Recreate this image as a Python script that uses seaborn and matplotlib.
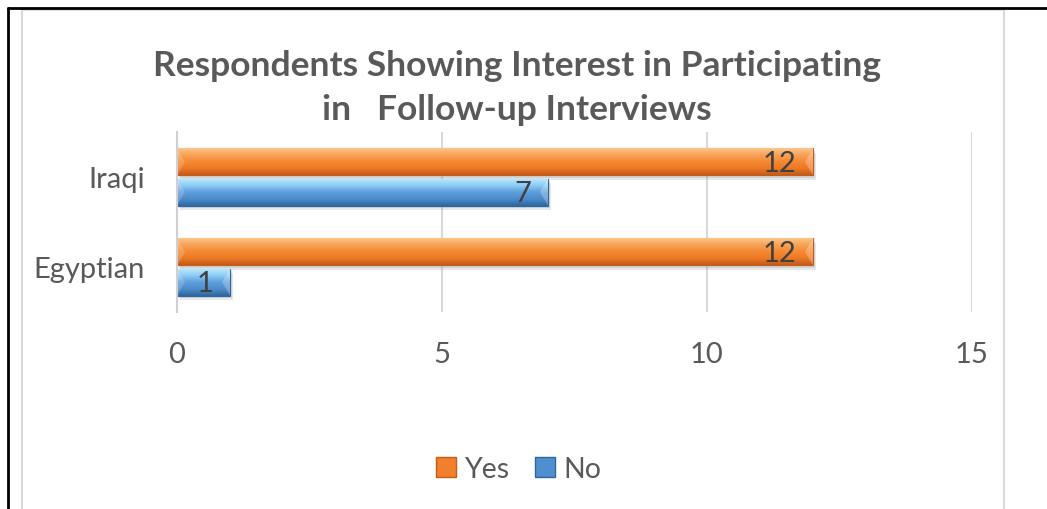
import numpy as np
import pandas as pd
import matplotlib
matplotlib.use("Agg")
import matplotlib.pyplot as plt
import matplotlib.patheffects as pe
from matplotlib.lines import Line2D
from matplotlib.patches import Patch, Polygon
from matplotlib.colors import to_rgb
import seaborn as sns

# Data
groups = ["Iraqi", "Egyptian"]
answers = ["Yes", "No"]
yes_counts = [12, 12]
no_counts = [7, 1]
x_ticks = [0, 5, 10, 15]

df = pd.DataFrame({
    "group": groups * 2,
    "answer": ["Yes"] * len(groups) + ["No"] * len(groups),
    "count": yes_counts + no_counts,
})

sns.set_theme(style="white")
plt.rcParams["font.family"] = ["Lato", "DejaVu Sans"]

colors = {"Yes": "#F27F2C", "No": "#4F8FD0"}
grad = {
    "Yes": ["#FCCB94", "#F8A65C", "#F58A35", "#EE7A25", "#C45C1A"],
    "No": ["#B8EEFF", "#90CDF6", "#5C9FDB", "#4D8CCB", "#2E67A0"],
}

fig = plt.figure(figsize=(10.47, 5.10), dpi=100)
ax = fig.add_axes([177 / 1047, 1 - 313 / 510, (972 - 177) / 1047, (313 - 133) / 510])

sns.barplot(data=df, y="group", x="count", hue="answer", order=groups,
            hue_order=answers, palette=colors, orient="h", width=0.667,
            gap=0.1, legend=False, ax=ax, saturation=1)

ax.set_xlim(0, 15)
ax.set_ylim(1.5, -0.5)
ax.set_xticks(x_ticks)
ax.set_xlabel("")
ax.set_ylabel("")
for s in ["top", "right", "bottom"]:
    ax.spines[s].set_visible(False)
ax.spines["left"].set_color("#D0D0D0")
ax.spines["left"].set_linewidth(1.5)
ax.xaxis.grid(True, color="#D9D9D9", linewidth=1.5)
ax.set_axisbelow(True)
ax.tick_params(axis="both", length=0, labelsize=21, labelcolor="#595959")
ax.tick_params(axis="x", pad=21)
ax.tick_params(axis="y", pad=23)


def shade(cols, n=64):
    pts = np.linspace(0, 1, len(cols))
    rgb = np.array([to_rgb(c) for c in cols])
    t = np.linspace(0, 1, n)
    out = np.stack([np.interp(t, pts, rgb[:, k]) for k in range(3)], axis=1)
    return out[:, None, :]


bevel = 0.15
for container, ans in zip(ax.containers, answers):
    for patch in container:
        x0, y0 = patch.get_x(), patch.get_y()
        w, h = patch.get_width(), patch.get_height()
        patch.set_edgecolor(grad[ans][-1])
        patch.set_linewidth(0.8)
        patch.set_path_effects([
            pe.SimplePatchShadow(offset=(2.5, -3.5), shadow_rgbFace="#999999", alpha=0.22),
            pe.SimplePatchShadow(offset=(1.5, -2), shadow_rgbFace="#888888", alpha=0.22),
            pe.Normal()])
        img = ax.imshow(shade(grad[ans]), extent=(x0, x0 + w, y0 + h, y0),
                        origin="upper", aspect="auto", zorder=patch.get_zorder() + 0.1,
                        interpolation="bilinear")
        img.set_clip_path(patch)
        left = Polygon([(x0, y0), (x0 + bevel, y0 + h / 2), (x0, y0 + h)], closed=True,
                       facecolor="white", alpha=0.18, edgecolor="none",
                       zorder=patch.get_zorder() + 0.2)
        right = Polygon([(x0 + w, y0), (x0 + w - bevel, y0 + h / 2), (x0 + w, y0 + h)], closed=True,
                        facecolor="white", alpha=0.25, edgecolor="none",
                        zorder=patch.get_zorder() + 0.2)
        ax.add_patch(left)
        ax.add_patch(right)
        ax.annotate(f"{w:g}", xy=(x0 + w, y0 + h / 2), xytext=(-12, -1),
                    textcoords="offset points", ha="right", va="center",
                    fontsize=21, color="#404040", zorder=5)

ax.set_xlim(0, 15)
ax.set_ylim(1.5, -0.5)

fig.text(517 / 1047, 1 - 88 / 510,
         "Respondents Showing Interest in Participating\nin   Follow-up Interviews",
         ha="center", va="center", multialignment="center", fontsize=25.5,
         fontweight="bold", color="#595959", linespacing=1.46)

handles = [Patch(facecolor=colors[a], edgecolor=grad[a][-1]) for a in answers]
fig.legend(handles, answers, loc="center", bbox_to_anchor=(519 / 1047, 1 - 470 / 510),
           ncol=2, frameon=False, fontsize=20.5, labelcolor="#595959",
           handlelength=0.7, handleheight=0.7, handletextpad=0.3, columnspacing=0.9)

# Frame lines around the chart
T = fig.transFigure
fig.add_artist(Line2D([22 / 1047, 22 / 1047], [0, 1 - 11 / 510], color="#D9D9D9", lw=1.5, transform=T))
fig.add_artist(Line2D([1004 / 1047, 1004 / 1047], [0, 1 - 11 / 510], color="#D9D9D9", lw=1.5, transform=T))
fig.add_artist(Line2D([22 / 1047, 1004 / 1047], [1 - 11 / 510, 1 - 11 / 510], color="#D9D9D9", lw=1.2, transform=T))
fig.add_artist(Line2D([8 / 1047, 8 / 1047], [0, 1 - 9 / 510], color="black", lw=2, transform=T))
fig.add_artist(Line2D([8 / 1047, 1], [1 - 9 / 510, 1 - 9 / 510], color="black", lw=2, transform=T))

fig.savefig("out.png", dpi=100, facecolor="white")
